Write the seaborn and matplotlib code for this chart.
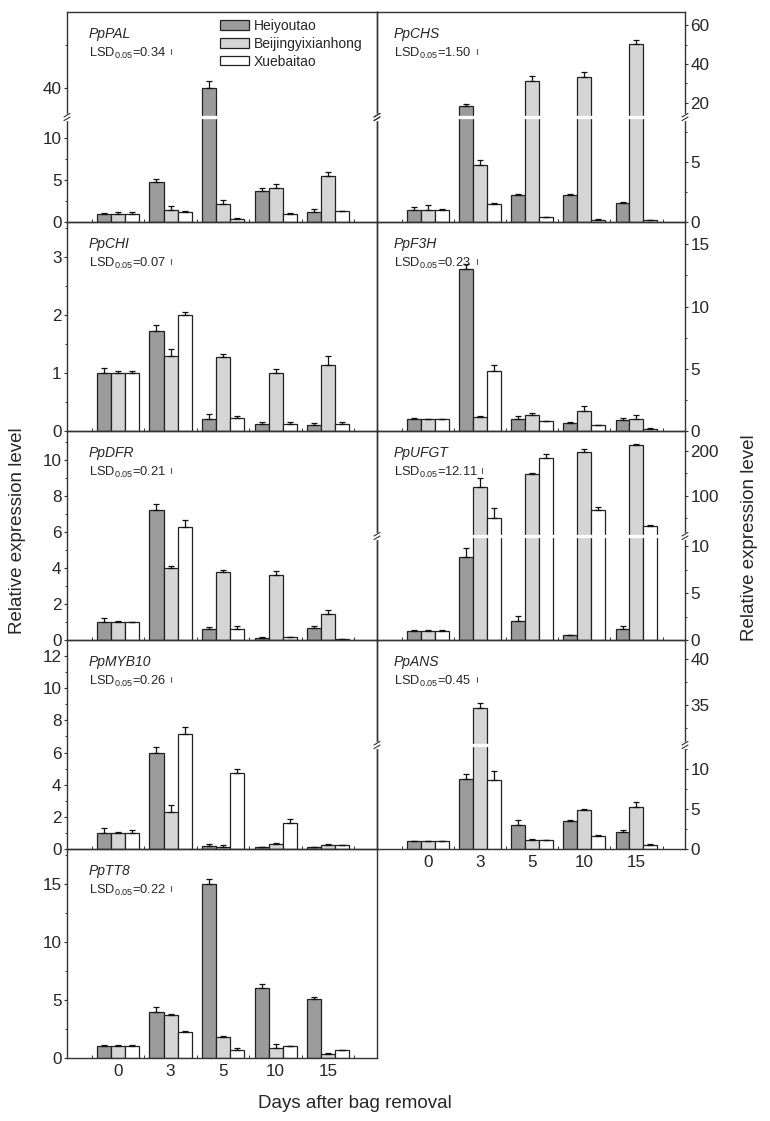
import numpy as np
import pandas as pd
import matplotlib
matplotlib.use('Agg')
import matplotlib.pyplot as plt
import seaborn as sns
from matplotlib.lines import Line2D
from matplotlib.patches import Rectangle
from matplotlib.ticker import FixedLocator

sns.set_style('ticks')
plt.rcParams['font.family'] = ['Liberation Sans', 'DejaVu Sans']
plt.rcParams['mathtext.fontset'] = 'custom'
plt.rcParams['mathtext.rm'] = 'Liberation Sans'
plt.rcParams['mathtext.it'] = 'Liberation Sans:italic'
plt.rcParams['mathtext.default'] = 'regular'

# ---------------- data ----------------
DAYS = ['0', '3', '5', '10', '15']
CULTIVARS = ['Heiyoutao', 'Beijingyixianhong', 'Xuebaitao']
COLORS = ['#9b9b9b', '#d5d5d5', '#ffffff']

PAL_MEAN = [[1.0, 4.8, 40.0, 3.65, 1.15], [1.0, 1.45, 2.15, 4.0, 5.48], [1.0, 1.15, 0.38, 0.95, 1.27]]
PAL_ERR = [[0.12, 0.3, 1.6, 0.4, 0.35], [0.25, 0.4, 0.5, 0.55, 0.45], [0.25, 0.2, 0.05, 0.1, 0.08]]
CHS_MEAN = [[1.0, 18.5, 2.25, 2.25, 1.6], [1.0, 4.75, 31.3, 33.5, 50.3], [1.0, 1.5, 0.4, 0.2, 0.15]]
CHS_ERR = [[0.25, 0.8, 0.08, 0.05, 0.08], [0.4, 0.45, 2.7, 2.2, 1.9], [0.05, 0.05, 0.03, 0.02, 0.02]]
CHI_MEAN = [[1.0, 1.73, 0.2, 0.12, 0.11], [1.0, 1.3, 1.27, 1.0, 1.14], [1.0, 2.0, 0.22, 0.12, 0.12]]
CHI_ERR = [[0.08, 0.1, 0.1, 0.03, 0.02], [0.03, 0.12, 0.06, 0.06, 0.15], [0.03, 0.05, 0.03, 0.03, 0.03]]
F3H_MEAN = [[0.95, 13.0, 0.97, 0.65, 0.9], [0.95, 1.13, 1.26, 1.64, 1.0], [0.97, 4.84, 0.8, 0.5, 0.2]]
F3H_ERR = [[0.1, 0.4, 0.25, 0.1, 0.15], [0.05, 0.08, 0.15, 0.35, 0.25], [0.02, 0.43, 0.02, 0.02, 0.02]]
DFR_MEAN = [[0.98, 7.24, 0.6, 0.11, 0.65], [0.98, 4.0, 3.76, 3.6, 1.44], [1.0, 6.26, 0.63, 0.15, 0.07]]
DFR_ERR = [[0.22, 0.3, 0.1, 0.03, 0.1], [0.1, 0.12, 0.1, 0.25, 0.2], [0.01, 0.42, 0.12, 0.02, 0.01]]
UFGT_MEAN = [[1.0, 8.9, 2.0, 0.5, 1.2], [1.0, 118.7, 147.5, 196.4, 213.0], [1.0, 50.0, 183.0, 68.0, 32.7]]
UFGT_ERR = [[0.1, 0.9, 0.6, 0.05, 0.3], [0.1, 20.0, 3.0, 8.0, 3.0], [0.02, 22.0, 10.0, 8.0, 2.0]]
MYB10_MEAN = [[1.0, 5.95, 0.2, 0.12, 0.1], [1.0, 2.3, 0.15, 0.3, 0.27], [1.0, 7.16, 4.7, 1.6, 0.23]]
MYB10_ERR = [[0.3, 0.4, 0.1, 0.02, 0.02], [0.05, 0.45, 0.1, 0.1, 0.05], [0.2, 0.45, 0.3, 0.25, 0.02]]
ANS_MEAN = [[0.96, 8.8, 3.0, 3.5, 2.1], [0.96, 34.7, 1.1, 4.9, 5.3], [0.96, 8.6, 1.1, 1.6, 0.55]]
ANS_ERR = [[0.1, 0.6, 0.6, 0.1, 0.3], [0.1, 0.5, 0.1, 0.1, 0.6], [0.05, 1.1, 0.05, 0.2, 0.05]]
TT8_MEAN = [[1.0, 3.97, 15.0, 6.03, 5.09], [1.0, 3.68, 1.78, 0.9, 0.35], [1.0, 2.24, 0.69, 1.0, 0.69]]
TT8_ERR = [[0.15, 0.45, 0.4, 0.35, 0.15], [0.12, 0.15, 0.08, 0.3, 0.05], [0.12, 0.05, 0.15, 0.03, 0.02]]

GENES = ['PpPAL', 'PpCHS', 'PpCHI', 'PpF3H', 'PpDFR', 'PpUFGT', 'PpMYB10', 'PpANS', 'PpTT8']
LSD = ['0.34', '1.50', '0.07', '0.23', '0.21', '12.11', '0.26', '0.45', '0.22']

# ---------------- layout (pixels) ----------------
W, H = 770, 1121
fig = plt.figure(figsize=(W / 100, H / 100), dpi=100)
renderer = fig.canvas.get_renderer()
ROW_TOP = [12, 222, 431, 640, 849]
ROW_BOT = [222, 431, 640, 849, 1058]
COL_L = [67, 377]
COL_R = [377, 685]
EDGE = '#222222'
SPINE = '#333333'


def fx(x):
    return x / W


def fy(y):
    return 1 - y / H


def add_ax(l, r, t, b):
    ax = fig.add_axes([fx(l), fy(b), (r - l) / W, (b - t) / H])
    ax.patch.set_alpha(0)
    return ax


def draw_bars(ax, mean, err):
    rows = []
    for ci, cult in enumerate(CULTIVARS):
        for di, d in enumerate(DAYS):
            rows.append({'day': d, 'cultivar': cult, 'value': mean[ci][di]})
    df = pd.DataFrame(rows)
    sns.barplot(data=df, x='day', y='value', hue='cultivar', order=DAYS,
                hue_order=CULTIVARS, palette=COLORS, saturation=1,
                edgecolor=EDGE, linewidth=0.9, width=0.8, errorbar=None,
                legend=False, ax=ax)
    for cont, errs in zip(ax.containers, err):
        for bar, e in zip(cont, errs):
            x = bar.get_x() + bar.get_width() / 2
            h = bar.get_height()
            ax.errorbar([x], [h], yerr=[[0], [e]], fmt='none', ecolor='#111111',
                        elinewidth=0.9, capsize=2.2, capthick=0.9, zorder=3)


def style_ax(ax, side, ylim, majors, minors, top=True, bottom=True, xlabels=False):
    ax.set_xlim(-0.97, 4.93)
    ax.set_ylim(*ylim)
    ax.set_xlabel('')
    ax.set_ylabel('')
    for s in ax.spines.values():
        s.set_color(SPINE)
        s.set_linewidth(1.0)
    ax.spines['top'].set_visible(top)
    ax.spines['bottom'].set_visible(bottom)
    ax.yaxis.set_major_locator(FixedLocator(majors))
    ax.yaxis.set_minor_locator(FixedLocator(minors))
    if side == 'right':
        ax.yaxis.tick_right()
        ax.tick_params(axis='y', which='both', left=False, right=True,
                       labelleft=False, labelright=True)
    else:
        ax.tick_params(axis='y', which='both', left=True, right=False,
                       labelleft=True, labelright=False)
    ax.tick_params(axis='y', which='major', direction='out', length=2.5, width=0.8,
                   pad=1.5, labelsize=12.3, color=SPINE)
    ax.tick_params(axis='y', which='minor', direction='out', length=1.6, width=0.7,
                   color=SPINE)
    ax.set_xticks(range(len(DAYS)))
    ax.set_xticks(np.arange(-0.5, len(DAYS), 1.0), minor=True)
    if bottom:
        ax.tick_params(axis='x', which='both', direction='in', length=2.2, width=0.7,
                       bottom=True, top=False, color=SPINE)
        ax.tick_params(axis='x', which='major', labelbottom=xlabels, labelsize=12.3, pad=4)
        if xlabels:
            ax.set_xticklabels(DAYS)
    else:
        ax.tick_params(axis='x', which='both', bottom=False, top=False, labelbottom=False)


def break_marks(l, r, yb):
    fig.add_artist(Line2D([fx(l + 1.2), fx(r - 1.2)], [fy(yb), fy(yb)],
                          color='white', lw=2.4, zorder=10))
    for x in (l, r):
        fig.add_artist(Line2D([fx(x), fx(x)], [fy(yb - 2.2), fy(yb + 2.2)],
                              color='white', lw=2.5, zorder=11))
        for d in (-1.8, 1.8):
            fig.add_artist(Line2D([fx(x - 3), fx(x + 3)],
                                  [fy(yb + d + 1.8), fy(yb + d - 1.8)],
                                  color=SPINE, lw=0.8, zorder=12))


def annotate(gi, col, top):
    l = COL_L[col]
    off = 22 if col == 0 else 17
    fig.text(fx(l + off), fy(top + 22), GENES[gi], style='italic', fontsize=10,
             va='center', ha='left')
    t = fig.text(fx(l + off), fy(top + 41), r'LSD$_{0.05}$=' + LSD[gi], fontsize=9.3,
                 va='center', ha='left')
    end = t.get_window_extent(renderer=renderer).x1
    mx = max(l + (104 if col == 0 else 100), end + 4)
    fig.add_artist(Line2D([fx(mx), fx(mx)], [fy(top + 37), fy(top + 42)],
                          color='#555555', lw=0.8))


PANELS = [
    # gene index, mean, err, col, row, spec
    (0, PAL_MEAN, PAL_ERR, 0, 0,
     dict(brk=117, lo=((0, 12.5), [0, 5, 10], [2.5, 7.5]), up=((33.3, 57.7), [40], [50]))),
    (1, CHS_MEAN, CHS_ERR, 1, 0,
     dict(brk=117, lo=((0, 8.75), [0, 5], [2.5, 7.5]), up=((12.8, 66.7), [20, 40, 60], [30, 50]))),
    (2, CHI_MEAN, CHI_ERR, 0, 1,
     dict(lim=((0, 3.6), [0, 1, 2, 3], [0.5, 1.5, 2.5, 3.5]))),
    (3, F3H_MEAN, F3H_ERR, 1, 1,
     dict(lim=((0, 16.8), [0, 5, 10, 15], [2.5, 7.5, 12.5]))),
    (4, DFR_MEAN, DFR_ERR, 0, 2,
     dict(lim=((0, 11.6), [0, 2, 4, 6, 8, 10], [1, 3, 5, 7, 9, 11]))),
    (5, UFGT_MEAN, UFGT_ERR, 1, 2,
     dict(brk=536, lo=((0, 11.1), [0, 5, 10], [2.5, 7.5]), up=((10.4, 244), [100, 200], [50, 150]))),
    (6, MYB10_MEAN, MYB10_ERR, 0, 3,
     dict(lim=((0, 13.0), [0, 2, 4, 6, 8, 10, 12], [1, 3, 5, 7, 9, 11]))),
    (7, ANS_MEAN, ANS_ERR, 1, 3,
     dict(brk=745, lo=((0, 13.0), [0, 5, 10], [2.5, 7.5, 12.5]), up=((30.7, 42), [35, 40], [32.5, 37.5]))),
    (8, TT8_MEAN, TT8_ERR, 0, 4,
     dict(lim=((0, 18.0), [0, 5, 10, 15], [2.5, 7.5, 12.5, 17.5]))),
]

for gi, mean, err, col, row, spec in PANELS:
    l, r = COL_L[col], COL_R[col]
    t, b = ROW_TOP[row], ROW_BOT[row]
    side = 'left' if col == 0 else 'right'
    xl = (gi in (7, 8))
    if 'brk' in spec:
        yb = spec['brk']
        axu = add_ax(l, r, t, yb)
        draw_bars(axu, mean, err)
        style_ax(axu, side, *spec['up'], top=True, bottom=False)
        axl = add_ax(l, r, yb, b)
        draw_bars(axl, mean, err)
        style_ax(axl, side, *spec['lo'], top=False, bottom=True, xlabels=xl)
        break_marks(l, r, yb)
    else:
        ax = add_ax(l, r, t, b)
        draw_bars(ax, mean, err)
        style_ax(ax, side, *spec['lim'], xlabels=xl)
    annotate(gi, col, t)

# legend
handles = [Rectangle((0, 0), 1, 1, facecolor=c, edgecolor=EDGE, linewidth=0.9) for c in COLORS]
fig.legend(handles, CULTIVARS, loc='upper left', bbox_to_anchor=(fx(220), fy(19)),
           frameon=False, fontsize=10, handlelength=2.1, handleheight=0.65,
           handletextpad=0.35, labelspacing=0.27, borderpad=0, borderaxespad=0)

fig.text(fx(18), fy(531), 'Relative expression level', rotation=90, fontsize=13.5,
         ha='center', va='center')
fig.text(fx(750), fy(538), 'Relative expression level', rotation=90, fontsize=13.5,
         ha='center', va='center')
fig.text(fx(355), fy(1103), 'Days after bag removal', fontsize=13.5, ha='center', va='center')

fig.savefig('out.png', dpi=100)
